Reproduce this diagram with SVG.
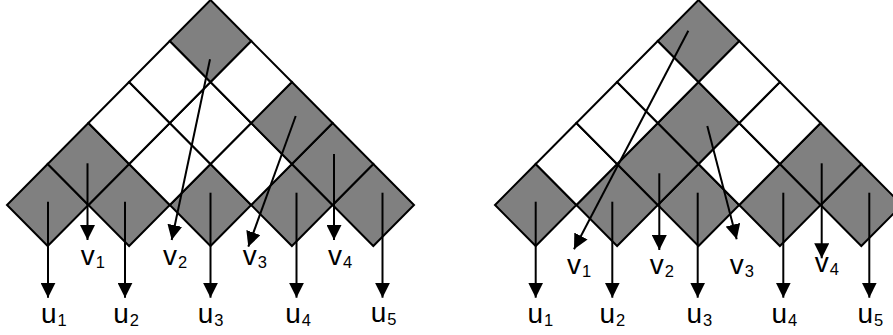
<svg xmlns="http://www.w3.org/2000/svg" xmlns:xlink="http://www.w3.org/1999/xlink" width="893" height="335" viewBox="0 0 893 335">
  <style>
    .cell { stroke: #000; stroke-width: 2; stroke-linejoin: miter; }
    .on { fill: #808080; }
    .off { fill: #ffffff; }
    .arrow { fill: none; stroke: #000; stroke-width: 2; marker-end: url(#head); }
    .lbl { font-family: "Liberation Sans", Arial, Helvetica, sans-serif; font-size: 28px; fill: #000; }
    .sub { font-size: 16.5px; }
  </style>
  <defs>
    <polygon id="dia" points="0,-41 40.7,0 0,41 -40.7,0"/>
    <marker id="head" viewBox="0 0 15 15" refX="15" refY="7.5" markerWidth="15" markerHeight="15" markerUnits="userSpaceOnUse" orient="auto">
      <path d="M0,0 L15,7.5 L0,15 Z" fill="#000"/>
    </marker>
  </defs>
  <rect width="893" height="335" fill="#fff"/>

  <!-- Left lattice: apex at x=210.5, rows of diamonds from bottom (row 0) to top (row 4) -->
  <g id="left-lattice">
    <g id="L-r0-0"><use xlink:href="#dia" href="#dia" class="cell on" x="47.7" y="205"/></g>
    <g id="L-r0-1"><use xlink:href="#dia" href="#dia" class="cell on" x="129.1" y="205"/></g>
    <g id="L-r0-2"><use xlink:href="#dia" href="#dia" class="cell on" x="210.5" y="205"/></g>
    <g id="L-r0-3"><use xlink:href="#dia" href="#dia" class="cell on" x="291.9" y="205"/></g>
    <g id="L-r0-4"><use xlink:href="#dia" href="#dia" class="cell on" x="373.3" y="205"/></g>
    <g id="L-r1-0"><use xlink:href="#dia" href="#dia" class="cell on" x="88.4" y="164"/></g>
    <g id="L-r1-1"><use xlink:href="#dia" href="#dia" class="cell off" x="169.8" y="164"/></g>
    <g id="L-r1-2"><use xlink:href="#dia" href="#dia" class="cell off" x="251.2" y="164"/></g>
    <g id="L-r1-3"><use xlink:href="#dia" href="#dia" class="cell on" x="332.6" y="164"/></g>
    <g id="L-r2-0"><use xlink:href="#dia" href="#dia" class="cell off" x="129.1" y="123"/></g>
    <g id="L-r2-1"><use xlink:href="#dia" href="#dia" class="cell off" x="210.5" y="123"/></g>
    <g id="L-r2-2"><use xlink:href="#dia" href="#dia" class="cell on" x="291.9" y="123"/></g>
    <g id="L-r3-0"><use xlink:href="#dia" href="#dia" class="cell off" x="169.8" y="82"/></g>
    <g id="L-r3-1"><use xlink:href="#dia" href="#dia" class="cell off" x="251.2" y="82"/></g>
    <g id="L-r4-0"><use xlink:href="#dia" href="#dia" class="cell on" x="210.5" y="41"/></g>
  </g>

  <!-- Right lattice: apex at x=698.5 -->
  <g id="right-lattice">
    <g id="R-r0-0"><use xlink:href="#dia" href="#dia" class="cell on" x="535.7" y="205"/></g>
    <g id="R-r0-1"><use xlink:href="#dia" href="#dia" class="cell on" x="617.1" y="205"/></g>
    <g id="R-r0-2"><use xlink:href="#dia" href="#dia" class="cell on" x="698.5" y="205"/></g>
    <g id="R-r0-3"><use xlink:href="#dia" href="#dia" class="cell on" x="779.9" y="205"/></g>
    <g id="R-r0-4"><use xlink:href="#dia" href="#dia" class="cell on" x="861.3" y="205"/></g>
    <g id="R-r1-0"><use xlink:href="#dia" href="#dia" class="cell off" x="576.4" y="164"/></g>
    <g id="R-r1-1"><use xlink:href="#dia" href="#dia" class="cell on" x="657.8" y="164"/></g>
    <g id="R-r1-2"><use xlink:href="#dia" href="#dia" class="cell off" x="739.2" y="164"/></g>
    <g id="R-r1-3"><use xlink:href="#dia" href="#dia" class="cell on" x="820.6" y="164"/></g>
    <g id="R-r2-0"><use xlink:href="#dia" href="#dia" class="cell off" x="617.1" y="123"/></g>
    <g id="R-r2-1"><use xlink:href="#dia" href="#dia" class="cell on" x="698.5" y="123"/></g>
    <g id="R-r2-2"><use xlink:href="#dia" href="#dia" class="cell off" x="779.9" y="123"/></g>
    <g id="R-r3-0"><use xlink:href="#dia" href="#dia" class="cell off" x="657.8" y="82"/></g>
    <g id="R-r3-1"><use xlink:href="#dia" href="#dia" class="cell off" x="739.2" y="82"/></g>
    <g id="R-r4-0"><use xlink:href="#dia" href="#dia" class="cell on" x="698.5" y="41"/></g>
  </g>

  <!-- Output arrows -->
  <g id="connectors">
    <path class="arrow" d="M48,201.7 V297.7"/>
    <path class="arrow" d="M125,201.7 V297.7"/>
    <path class="arrow" d="M210.5,192.7 V297.7"/>
    <path class="arrow" d="M296.5,192.7 V297.7"/>
    <path class="arrow" d="M382.5,192.7 V297.7"/>
    <path class="arrow" d="M87.5,163.3 V240"/>
    <path class="arrow" d="M210,59.3 L171.7,240"/>
    <path class="arrow" d="M295.7,116 L248.3,246.7"/>
    <path class="arrow" d="M334,154 V240"/>

    <path class="arrow" d="M535.7,201.7 V297.7"/>
    <path class="arrow" d="M612.3,201.7 V297.7"/>
    <path class="arrow" d="M697.7,192.7 V297.7"/>
    <path class="arrow" d="M783.3,192.7 V297.7"/>
    <path class="arrow" d="M869.3,192.7 V297.7"/>
    <path class="arrow" d="M688.3,30.7 L574,249.3"/>
    <path class="arrow" d="M659.3,173.3 V250"/>
    <path class="arrow" d="M707.3,126 L736.7,239.3"/>
    <path class="arrow" d="M821.7,163.3 V258.3"/>
  </g>

  <!-- Labels -->
  <g id="labels">
    <text class="lbl" x="41" y="322.5">u<tspan class="sub" dx="1" dy="3">1</tspan></text>
    <text class="lbl" x="113.2" y="322.5">u<tspan class="sub" dx="1" dy="3">2</tspan></text>
    <text class="lbl" x="197.7" y="322.5">u<tspan class="sub" dx="1" dy="3">3</tspan></text>
    <text class="lbl" x="285.2" y="322.5">u<tspan class="sub" dx="1" dy="3">4</tspan></text>
    <text class="lbl" x="370.7" y="321.5">u<tspan class="sub" dx="1" dy="3">5</tspan></text>
    <text class="lbl" x="80.7" y="265">v<tspan class="sub" dx="1" dy="3">1</tspan></text>
    <text class="lbl" x="163" y="265">v<tspan class="sub" dx="1" dy="3">2</tspan></text>
    <text class="lbl" x="242.7" y="265">v<tspan class="sub" dx="1" dy="3">3</tspan></text>
    <text class="lbl" x="328" y="265">v<tspan class="sub" dx="1" dy="3">4</tspan></text>

    <text class="lbl" x="527.5" y="322.5">u<tspan class="sub" dx="1" dy="3">1</tspan></text>
    <text class="lbl" x="599.5" y="322.5">u<tspan class="sub" dx="1" dy="3">2</tspan></text>
    <text class="lbl" x="686.5" y="322.5">u<tspan class="sub" dx="1" dy="3">3</tspan></text>
    <text class="lbl" x="771.5" y="322.5">u<tspan class="sub" dx="1" dy="3">4</tspan></text>
    <text class="lbl" x="857.5" y="322.5">u<tspan class="sub" dx="1" dy="3">5</tspan></text>
    <text class="lbl" x="567" y="273.5">v<tspan class="sub" dx="1" dy="3">1</tspan></text>
    <text class="lbl" x="649.7" y="273.5">v<tspan class="sub" dx="1" dy="3">2</tspan></text>
    <text class="lbl" x="729.7" y="273.5">v<tspan class="sub" dx="1" dy="3">3</tspan></text>
    <text class="lbl" x="814.7" y="271.5">v<tspan class="sub" dx="1" dy="3">4</tspan></text>
  </g>
</svg>
